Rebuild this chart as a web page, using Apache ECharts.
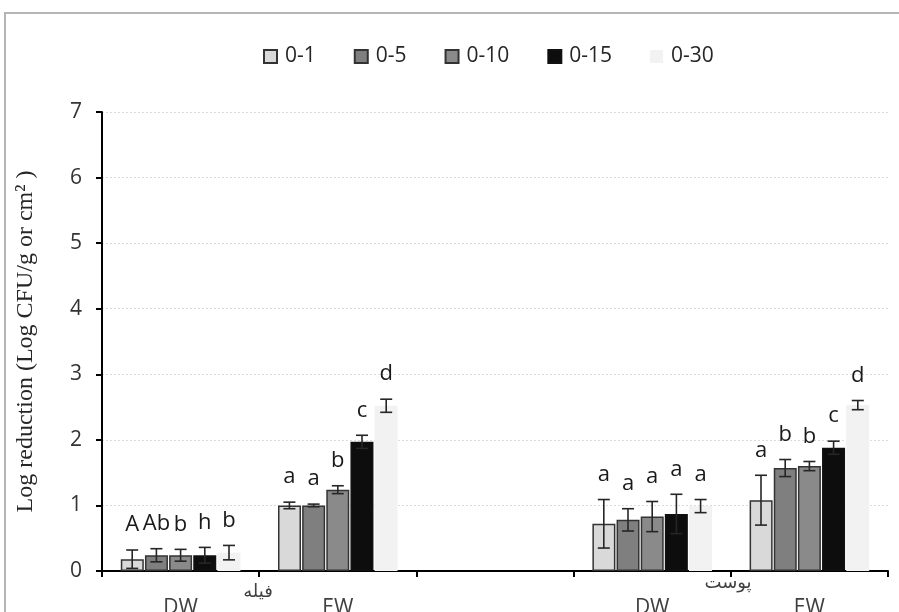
<!DOCTYPE html>
<html>
<head>
<meta charset="utf-8">
<script src="https://cdn.jsdelivr.net/npm/echarts@6/dist/echarts.min.js"></script>
<style>
  html, body { margin: 0; padding: 0; background: #fff; }
  #chart { width: 899px; height: 612px; }
</style>
</head>
<body>
<div id="chart"></div>
<script>
const categories = ['DW', 'EW', '', 'DW', 'EW'];
const levels = ['0-1', '0-5', '0-10', '0-15', '0-30'];
const groupNames = ['فیله', 'پوست'];

// means per level, by category (middle one empty)
const mean01 = [0.18, 1.00, null, 0.72, 1.08];
const mean05 = [0.24, 1.00, null, 0.78, 1.57];
const mean010 = [0.24, 1.24, null, 0.83, 1.60];
const mean015 = [0.24, 1.97, null, 0.87, 1.88];
const mean030 = [0.28, 2.52, null, 0.99, 2.53];

// standard errors
const err01 = [0.14, 0.05, null, 0.37, 0.38];
const err05 = [0.10, 0.02, null, 0.17, 0.13];
const err010 = [0.09, 0.06, null, 0.23, 0.07];
const err015 = [0.12, 0.10, null, 0.30, 0.10];
const err030 = [0.11, 0.10, null, 0.10, 0.07];

// significance letters
const let01 = ['A', 'a', '', 'a', 'a'];
const let05 = ['Ab', 'a', '', 'a', 'b'];
const let010 = ['b', 'b', '', 'a', 'b'];
const let015 = ['h', 'c', '', 'a', 'c'];
const let030 = ['b', 'd', '', 'a', 'd'];

const means = [mean01, mean05, mean010, mean015, mean030];
const errs = [err01, err05, err010, err015, err030];
const letters = [let01, let05, let010, let015, let030];

const COLORS = ['#d9d9d9', '#7f7f7f', '#8a8a8a', '#0d0d0d', '#f2f2f2'];
const BORDERS = ['#333', '#333', '#333', '#111', '#f2f2f2'];
const BAR_W = 23;
const STEP = 24.2;
const FONT = 'Open Sans';

const barSeries = levels.map((name, i) => ({
  name,
  type: 'bar',
  barWidth: BAR_W,
  barGap: '5%',
  itemStyle: { color: COLORS[i], borderColor: BORDERS[i], borderWidth: i === 4 ? 0 : 1.5 },
  data: means[i].map(v => (v == null ? '-' : v))
}));

const errSeries = levels.map((name, i) => ({
  type: 'custom',
  name: name + '-err',
  silent: true,
  z: 5,
  renderItem(params, api) {
    const x = api.value(0);
    const m = api.value(1);
    const e = api.value(2);
    if (isNaN(m)) return;
    const offset = (i - 2) * STEP;
    const top = api.coord([x, m + e]);
    const bot = api.coord([x, m - e]);
    const cx = top[0] + offset;
    const cap = 6;
    const st = { stroke: '#262626', lineWidth: 1.6 };
    return {
      type: 'group',
      children: [
        { type: 'line', shape: { x1: cx, y1: top[1], x2: cx, y2: bot[1] }, style: st },
        { type: 'line', shape: { x1: cx - cap, y1: top[1], x2: cx + cap, y2: top[1] }, style: st },
        { type: 'line', shape: { x1: cx - cap, y1: bot[1], x2: cx + cap, y2: bot[1] }, style: st },
        {
          type: 'text',
          style: {
            x: cx, y: top[1] - 14,
            text: letters[i][params.dataIndex],
            fill: '#1a1a1a',
            font: '22px "' + FONT + '"',
            align: 'center', verticalAlign: 'bottom'
          }
        }
      ]
    };
  },
  encode: { x: 0, y: 1 },
  data: means[i].map((v, k) => [k, v == null ? NaN : v, errs[i][k] || 0])
}));

const chart = echarts.init(document.getElementById('chart'));
chart.setOption({
  animation: false,
  backgroundColor: '#fff',
  textStyle: { fontFamily: FONT },
  legend: {
    data: levels,
    top: 41,
    left: 258,
    itemWidth: 13,
    itemHeight: 13,
    itemGap: 38,
    icon: 'rect',
    textStyle: { fontSize: 21, color: '#262626', fontFamily: FONT, padding: [0, 0, 0, 3] }
  },
  grid: { left: 102, right: 11, top: 112, bottom: 41, outerBoundsMode: 'none' },
  xAxis: {
    type: 'category',
    data: categories,
    axisLine: { lineStyle: { color: '#000', width: 2 } },
    axisTick: { show: true, length: 6, lineStyle: { color: '#000', width: 2 } },
    axisLabel: { fontSize: 21, color: '#404040', margin: 27, fontFamily: FONT },
    splitLine: { show: false }
  },
  yAxis: {
    type: 'value',
    min: 0,
    max: 7,
    interval: 1,
    name: 'Log reduction (Log CFU/g or cm² )',
    nameLocation: 'middle',
    nameGap: 64,
    nameTextStyle: { fontFamily: 'Liberation Serif', fontSize: 24, color: '#262626' },
    axisLine: { show: true, lineStyle: { color: '#000', width: 2 } },
    axisTick: { show: true, inside: false, length: 6, lineStyle: { color: '#000', width: 2 } },
    axisLabel: { fontSize: 21, color: '#333', margin: 20, fontFamily: FONT },
    splitLine: { show: true, lineStyle: { color: '#dcdcdc', type: [2, 2], width: 1 } }
  },
  graphic: [
    {
      type: 'rect',
      shape: { x: 5, y: 13, width: 910, height: 620 },
      style: { fill: 'none', stroke: '#b5b5b5', lineWidth: 2 }
    },
    {
      type: 'text', x: 258, y: 592,
      style: { text: groupNames[0], font: '18px "DejaVu Sans"', fill: '#404040', align: 'center', verticalAlign: 'middle' }
    },
    {
      type: 'text', x: 728, y: 583,
      style: { text: groupNames[1], font: '18px "DejaVu Sans"', fill: '#404040', align: 'center', verticalAlign: 'middle' }
    }
  ],
  series: [...barSeries, ...errSeries]
});
</script>
</body>
</html>
